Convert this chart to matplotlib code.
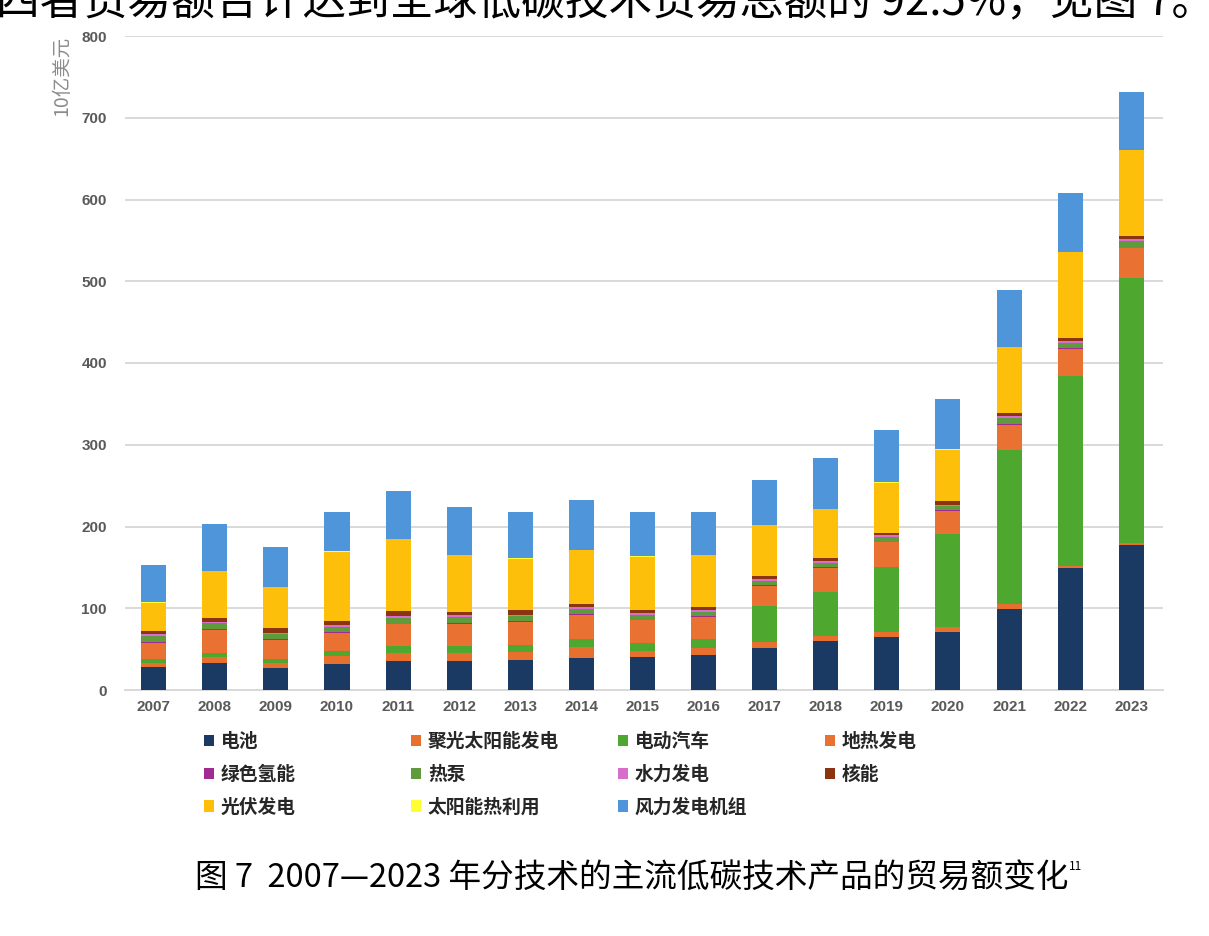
import matplotlib
matplotlib.use("Agg")
import matplotlib.pyplot as plt
import numpy as np

plt.rcParams['font.family'] = ['Noto Sans CJK SC', 'DejaVu Sans']

# 数据（10亿美元），按堆叠顺序从下到上
years = [str(y) for y in range(2007, 2024)]
battery = [27.6, 32.5, 26.7, 31.7, 35.8, 35.8, 37.0, 39.1, 39.9, 43.2, 51.0, 60.4, 65.3, 70.6, 99.5, 149.5, 177.3]
csp = [4.9, 7.4, 5.8, 9.5, 9.5, 9.1, 9.9, 13.2, 7.4, 7.8, 7.4, 6.1, 5.3, 6.7, 6.2, 2.5, 2.1]
ev = [5.4, 5.4, 5.4, 6.9, 9.0, 8.6, 8.7, 10.3, 10.3, 11.6, 44.0, 53.9, 80.4, 113.4, 188.1, 232.0, 324.6]
geothermal = [20.1, 28.4, 23.8, 21.9, 25.9, 27.6, 27.5, 29.6, 27.6, 26.7, 25.4, 29.0, 29.8, 28.3, 30.9, 33.5, 36.2]
hydrogen = [0.8, 0.8, 0.8, 0.8, 0.8, 0.8, 0.8, 0.8, 0.8, 0.8, 0.8, 0.8, 0.8, 0.8, 0.8, 0.8, 0.8]
heat_pump = [7.1, 7.0, 5.5, 6.2, 7.1, 7.5, 6.3, 6.6, 6.2, 5.4, 5.3, 5.4, 5.4, 5.0, 7.5, 6.5, 8.5]
hydro = [2.0, 2.0, 2.0, 2.0, 2.0, 2.0, 2.0, 2.0, 2.0, 2.0, 2.0, 2.0, 2.0, 2.0, 2.0, 2.0, 2.0]
nuclear = [4.1, 4.2, 5.7, 5.0, 6.2, 4.1, 5.3, 4.2, 3.3, 4.1, 4.1, 4.0, 2.8, 4.1, 3.7, 3.6, 4.2]
pv = [35.0, 57.5, 49.8, 84.7, 88.1, 69.1, 63.0, 65.0, 65.1, 63.0, 61.6, 59.2, 61.7, 63.1, 80.5, 104.8, 104.5]
solar_thermal = [0.8, 0.8, 0.8, 0.8, 0.8, 0.8, 0.8, 0.8, 0.8, 0.8, 0.8, 0.8, 0.8, 0.8, 0.8, 0.8, 0.8]
wind = [44.5, 56.5, 48.2, 48.5, 58.4, 58.9, 56.4, 60.5, 54.3, 52.3, 53.9, 62.1, 64.1, 60.9, 69.7, 72.0, 70.0]

series = [
    ("电池", battery, "#1b3a63"),
    ("聚光太阳能发电", csp, "#e8702f"),
    ("电动汽车", ev, "#4ea72e"),
    ("地热发电", geothermal, "#e97132"),
    ("绿色氢能", hydrogen, "#a02b93"),
    ("热泵", heat_pump, "#5f9a3c"),
    ("水力发电", hydro, "#d86ecc"),
    ("核能", nuclear, "#8b3510"),
    ("光伏发电", pv, "#fdbf0a"),
    ("太阳能热利用", solar_thermal, "#ffff33"),
    ("风力发电机组", wind, "#4e95d9"),
]

W, H = 1209, 936
fig = plt.figure(figsize=(W / 100, H / 100), dpi=100)
ax = fig.add_axes([125 / W, 1 - 690 / H, 1038 / W, 654 / H])

x = np.arange(len(years))
bottom = np.zeros(len(years))
handles = []
for name, vals, color in series:
    b = ax.bar(x, vals, width=0.41, bottom=bottom, color=color, label=name, zorder=3)
    handles.append(b)
    bottom += np.array(vals)

ax.set_ylim(0, 800)
ax.set_xlim(-0.47, 16.52)
ax.set_yticks(range(0, 801, 100))
ax.set_xticks(x)
ax.set_xticklabels(years)
ax.grid(axis='y', color='#d9d9d9', linewidth=1.4, zorder=0)
ax.tick_params(length=0)
ax.tick_params(axis='y', pad=13)
ax.tick_params(axis='x', pad=7)
for lab in ax.get_xticklabels() + ax.get_yticklabels():
    lab.set_fontfamily('Liberation Sans')
    lab.set_fontweight('bold')
    lab.set_fontsize(11)
    lab.set_color('#595959')
for s in ['top', 'right', 'left']:
    ax.spines[s].set_visible(False)
ax.spines['bottom'].set_color('#d9d9d9')
ax.spines['bottom'].set_linewidth(1.4)

fig.text(62 / W, 1 - 76 / H, "10亿美元", rotation=90, ha='center', va='center',
         fontsize=14, color='#8c8c8c')

# 图例：三行四列，按行排列，每列单独一个图例
columns = [[0, 4, 8], [1, 5, 9], [2, 6, 10], [3, 7]]
col_x = [204, 411, 618, 825]
for idx, cx in zip(columns, col_x):
    leg = fig.legend([handles[i] for i in idx], [series[i][0] for i in idx],
                     loc='upper left', bbox_to_anchor=(cx / W, 1 - 732 / H),
                     frameon=False, borderpad=0, borderaxespad=0,
                     handlelength=0.55, handleheight=0.55, handletextpad=0.35,
                     labelspacing=0.74, prop={'size': 13.5, 'weight': 'bold'})
    for t in leg.get_texts():
        t.set_color('#262626')

# 被截去上半部分的正文
fig.text(-4 / W, 1 - 2 / H, "四者贸易额合计达到全球低碳技术贸易总额的 92.5%，见图 7。",
         ha='left', va='center', fontsize=31.5, color='black')

# 图题
cap = fig.text(195 / W, 1 - 878 / H, "图 7  2007—2023 年分技术的主流低碳技术产品的贸易额变化",
               ha='left', va='center', fontsize=23.5, color='black')
fig.canvas.draw()
bb = cap.get_window_extent()
fig.text(bb.x1 / W + 1 / W, 1 - 867 / H, "11", ha='left', va='center', fontsize=8.5, color='black')

fig.savefig("out.png", dpi=100)
